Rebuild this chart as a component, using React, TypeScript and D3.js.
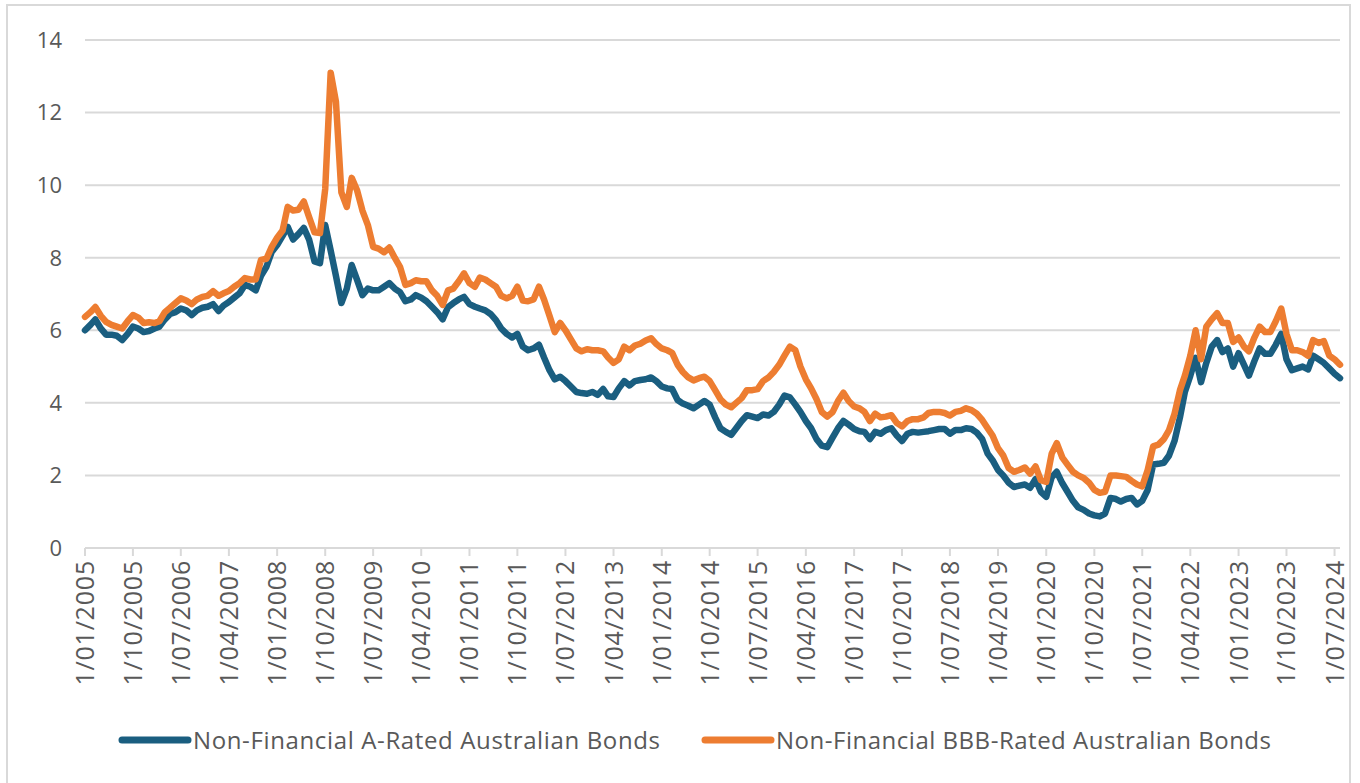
import React from 'react';
import * as d3 from 'd3';

// Monthly yields (%), Jan 2005 to Aug 2024
const seriesNames = [
  'Non-Financial A-Rated Australian Bonds',
  'Non-Financial BBB-Rated Australian Bonds',
];

const aRated = [
  6.0, 6.15, 6.3, 6.05, 5.88, 5.88, 5.85, 5.73, 5.9, 6.1, 6.05, 5.95, // 2005
  5.98, 6.05, 6.1, 6.3, 6.45, 6.5, 6.6, 6.55, 6.42, 6.55, 6.62, 6.65, // 2006
  6.72, 6.53, 6.68, 6.78, 6.9, 7.02, 7.25, 7.2, 7.1, 7.5, 7.75, 8.16, // 2007
  8.35, 8.6, 8.85, 8.5, 8.65, 8.82, 8.5, 7.9, 7.85, 8.9, 8.2, 7.5, // 2008
  6.75, 7.15, 7.8, 7.38, 6.97, 7.15, 7.1, 7.1, 7.2, 7.3, 7.15, 7.05, // 2009
  6.8, 6.85, 6.97, 6.9, 6.8, 6.65, 6.5, 6.3, 6.64, 6.75, 6.85, 6.92, // 2010
  6.72, 6.65, 6.6, 6.55, 6.45, 6.28, 6.05, 5.9, 5.8, 5.9, 5.55, 5.45, // 2011
  5.5, 5.6, 5.25, 4.9, 4.65, 4.72, 4.6, 4.45, 4.3, 4.27, 4.25, 4.3, // 2012
  4.22, 4.38, 4.18, 4.16, 4.4, 4.6, 4.48, 4.6, 4.63, 4.65, 4.7, 4.6, // 2013
  4.45, 4.4, 4.38, 4.08, 3.98, 3.92, 3.85, 3.95, 4.05, 3.95, 3.6, 3.3, // 2014
  3.2, 3.12, 3.3, 3.5, 3.66, 3.62, 3.58, 3.68, 3.65, 3.75, 3.95, 4.2, // 2015
  4.15, 3.95, 3.75, 3.5, 3.3, 3.0, 2.82, 2.78, 3.05, 3.3, 3.5, 3.4, // 2016
  3.28, 3.22, 3.2, 3.0, 3.2, 3.15, 3.25, 3.3, 3.1, 2.95, 3.15, 3.2, // 2017
  3.18, 3.2, 3.22, 3.25, 3.28, 3.28, 3.15, 3.25, 3.25, 3.3, 3.28, 3.18, // 2018
  3.0, 2.6, 2.42, 2.15, 2.0, 1.8, 1.68, 1.72, 1.75, 1.66, 1.9, 1.55, // 2019
  1.41, 1.95, 2.1, 1.79, 1.55, 1.3, 1.12, 1.05, 0.95, 0.9, 0.87, 0.95, // 2020
  1.38, 1.35, 1.28, 1.35, 1.38, 1.2, 1.3, 1.6, 2.3, 2.32, 2.35, 2.55, // 2021
  2.95, 3.6, 4.3, 4.75, 5.24, 4.57, 5.1, 5.55, 5.73, 5.4, 5.5, 5.0, // 2022
  5.37, 5.05, 4.75, 5.15, 5.5, 5.35, 5.35, 5.6, 5.9, 5.2, 4.9, 4.95, // 2023
  5.0, 4.92, 5.3, 5.2, 5.1, 4.95, 4.8, 4.68, // 2024
];

const bbbRated = [
  6.37, 6.5, 6.64, 6.4, 6.23, 6.15, 6.1, 6.05, 6.25, 6.42, 6.35, 6.2, // 2005
  6.22, 6.2, 6.25, 6.5, 6.62, 6.75, 6.88, 6.82, 6.72, 6.85, 6.92, 6.95, // 2006
  7.08, 6.95, 7.02, 7.08, 7.2, 7.3, 7.44, 7.4, 7.4, 7.94, 7.97, 8.3, // 2007
  8.55, 8.75, 9.4, 9.3, 9.32, 9.55, 9.12, 8.7, 8.68, 9.9, 13.1, 12.3, // 2008
  9.8, 9.4, 10.2, 9.85, 9.3, 8.9, 8.3, 8.25, 8.15, 8.28, 8.0, 7.75, // 2009
  7.25, 7.3, 7.38, 7.35, 7.35, 7.1, 6.95, 6.7, 7.1, 7.15, 7.35, 7.57, // 2010
  7.3, 7.2, 7.45, 7.4, 7.3, 7.2, 6.95, 6.88, 6.95, 7.2, 6.82, 6.8, // 2011
  6.85, 7.2, 6.85, 6.4, 5.95, 6.2, 6.0, 5.75, 5.5, 5.42, 5.48, 5.45, // 2012
  5.45, 5.42, 5.25, 5.1, 5.2, 5.55, 5.45, 5.58, 5.63, 5.72, 5.78, 5.62, // 2013
  5.5, 5.45, 5.38, 5.05, 4.85, 4.7, 4.62, 4.68, 4.72, 4.6, 4.35, 4.1, // 2014
  3.95, 3.88, 4.0, 4.13, 4.35, 4.35, 4.38, 4.6, 4.7, 4.85, 5.05, 5.3, // 2015
  5.55, 5.45, 5.0, 4.65, 4.4, 4.1, 3.75, 3.62, 3.75, 4.05, 4.28, 4.05, // 2016
  3.9, 3.85, 3.75, 3.5, 3.7, 3.6, 3.62, 3.66, 3.45, 3.35, 3.5, 3.55, // 2017
  3.55, 3.6, 3.72, 3.75, 3.75, 3.72, 3.65, 3.75, 3.78, 3.85, 3.8, 3.7, // 2018
  3.53, 3.3, 3.1, 2.75, 2.55, 2.2, 2.1, 2.15, 2.22, 2.05, 2.25, 1.87, // 2019
  1.82, 2.6, 2.89, 2.5, 2.3, 2.1, 2.0, 1.93, 1.8, 1.6, 1.52, 1.55, // 2020
  2.0, 2.0, 1.98, 1.96, 1.85, 1.75, 1.7, 2.15, 2.8, 2.85, 3.0, 3.25, // 2021
  3.7, 4.35, 4.75, 5.3, 6.0, 5.2, 6.1, 6.3, 6.47, 6.2, 6.2, 5.68, // 2022
  5.8, 5.55, 5.42, 5.8, 6.1, 5.95, 5.95, 6.25, 6.6, 5.9, 5.45, 5.45, // 2023
  5.4, 5.3, 5.73, 5.65, 5.7, 5.3, 5.2, 5.05, // 2024
];

const yTicks = [0, 2, 4, 6, 8, 10, 12, 14];
const tickEveryMonths = 9;
const colors = ['#1a5e80', '#ed7d31'];

const W = 1360;
const H = 783;
const FONT = "'Open Sans', 'Noto Sans', sans-serif";

const startDate = new Date(2005, 0, 1);
const dates = aRated.map((_, i) => d3.timeMonth.offset(startDate, i));

export default function App() {
  const x = d3.scaleTime()
    .domain([dates[0], dates[dates.length - 1]])
    .range([85, 1340]);
  const y = d3.scaleLinear().domain([0, 14]).range([548, 40]);

  const line = d3.line<number>()
    .x((_, i) => x(dates[i]))
    .y(d => y(d));

  const tickDates = dates.filter((_, i) => i % tickEveryMonths === 0);
  const fmt = d3.timeFormat('%m/%Y');

  return (
    <svg width={W} height={H} style={{ position: 'absolute', left: 0, top: 0, background: '#fff' }}>
      <rect x={7} y={5} width={1343} height={790} fill="#fff" stroke="#d9d9d9" strokeWidth={2} />

      {yTicks.map(t => (
        <g key={t}>
          {t > 0 && (
            <line x1={85} x2={1340} y1={y(t)} y2={y(t)} stroke="#d9d9d9" strokeWidth={2} />
          )}
          <text x={62} y={y(t)} dy="0.36em" textAnchor="end" fontFamily={FONT} fontSize={22} fill="#595959">
            {t}
          </text>
        </g>
      ))}

      {/* x axis */}
      <line x1={85} x2={1340} y1={y(0)} y2={y(0)} stroke="#d9d9d9" strokeWidth={2} />
      {tickDates.map(d => (
        <g key={+d} transform={`translate(${x(d)},${y(0)})`}>
          <line y1={0} y2={8} stroke="#d9d9d9" strokeWidth={2} />
          <text
            transform="translate(0,12) rotate(-90)"
            dy="0.36em"
            textAnchor="end"
            fontFamily={FONT}
            fontSize={25}
            letterSpacing={0.8}
            fill="#595959"
          >
            {'1/' + fmt(d)}
          </text>
        </g>
      ))}

      {[aRated, bbbRated].map((s, k) => (
        <path
          key={k}
          d={line(s) || ''}
          fill="none"
          stroke={colors[k]}
          strokeWidth={6.5}
          strokeLinejoin="round"
          strokeLinecap="round"
        />
      ))}

      {/* legend */}
      {seriesNames.map((name, k) => {
        const lx = k === 0 ? 122 : 705;
        return (
          <g key={name} transform={`translate(${lx},740)`}>
            <line x1={0} x2={66} y1={0} y2={0} stroke={colors[k]} strokeWidth={7} strokeLinecap="round" />
            <text x={71} dy="0.36em" fontFamily={FONT} fontSize={24} fill="#595959" textLength={k === 0 ? 467 : 495}>
              {name}
            </text>
          </g>
        );
      })}
    </svg>
  );
}
